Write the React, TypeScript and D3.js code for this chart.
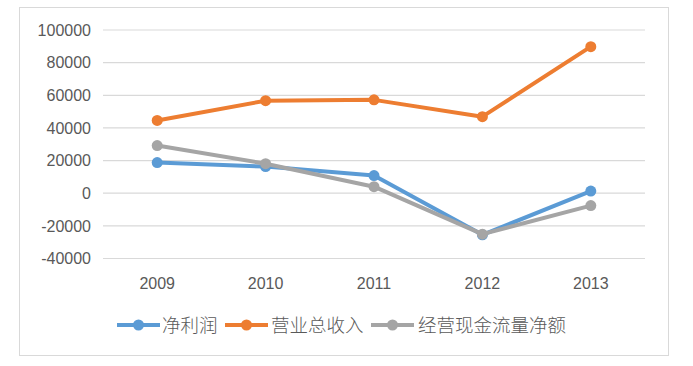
import * as d3 from 'd3';

const YEARS = ['2009', '2010', '2011', '2012', '2013'];
const NET_PROFIT = [18800, 16300, 10800, -25500, 1300];
const REVENUE = [44600, 56700, 57200, 46900, 89800];
const CASH_FLOW = [29200, 18100, 4000, -25100, -7600];
const Y_TICKS = [-40000, -20000, 0, 20000, 40000, 60000, 80000, 100000];

const SERIES = [
  { name: '净利润', values: NET_PROFIT, color: '#5B9BD5' },
  { name: '营业总收入', values: REVENUE, color: '#ED7D31' },
  { name: '经营现金流量净额', values: CASH_FLOW, color: '#A5A5A5' },
];

const W = 693;
const H = 366;
const PLOT_L = 103;
const PLOT_R = 645;
const PLOT_T = 30;
const PLOT_B = 258.5;

const LEGEND = [
  { x: 117, textX: 162 },
  { x: 225, textX: 271 },
  { x: 371, textX: 418 },
];

export default function App() {
  const x = d3.scaleBand<string>().domain(YEARS).range([PLOT_L, PLOT_R]);
  const y = d3.scaleLinear().domain([-40000, 100000]).range([PLOT_B, PLOT_T]);
  const cx = (yr: string) => (x(yr) ?? 0) + x.bandwidth() / 2;

  const line = d3
    .line<number>()
    .x((_, i) => cx(YEARS[i]))
    .y((v) => y(v));

  const numFont = '"Liberation Sans", Arial, sans-serif';
  const cjkFont = '"Noto Sans CJK SC", "Liberation Sans", sans-serif';

  return (
    <div style={{ position: 'absolute', left: 0, top: 0 }}>
      <svg width={W} height={H} style={{ display: 'block', background: '#fff' }}>
        <rect x={19.5} y={7.5} width={649} height={348} fill="#fff" stroke="#D9D9D9" />

        {/* grid + y labels */}
        {Y_TICKS.map((t) => (
          <g key={t}>
            <line x1={PLOT_L} x2={PLOT_R} y1={y(t)} y2={y(t)} stroke="#D9D9D9" strokeWidth={1.2} />
            <text
              x={91}
              y={y(t)}
              dy="0.36em"
              textAnchor="end"
              fontFamily={numFont}
              fontSize={16}
              fill="#595959"
            >
              {t}
            </text>
          </g>
        ))}

        {/* x labels */}
        {YEARS.map((yr) => (
          <text
            key={yr}
            x={cx(yr)}
            y={283}
            dy="0.36em"
            textAnchor="middle"
            fontFamily={numFont}
            fontSize={16}
            fill="#595959"
          >
            {yr}
          </text>
        ))}

        {/* series */}
        {SERIES.map((s) => (
          <g key={s.name}>
            <path d={line(s.values) ?? ''} fill="none" stroke={s.color} strokeWidth={4} strokeLinejoin="round" />
            {s.values.map((v, i) => (
              <circle key={i} cx={cx(YEARS[i])} cy={y(v)} r={5.5} fill={s.color} />
            ))}
          </g>
        ))}

        {/* legend */}
        {SERIES.map((s, i) => (
          <g key={s.name}>
            <line x1={LEGEND[i].x} x2={LEGEND[i].x + 43} y1={325} y2={325} stroke={s.color} strokeWidth={4} />
            <circle cx={LEGEND[i].x + 21.5} cy={325} r={5.5} fill={s.color} />
            <text
              x={LEGEND[i].textX}
              y={325}
              dy="0.36em"
              fontFamily={cjkFont}
              fontSize={18.5}
              fontWeight={300}
              fill="#595959"
            >
              {s.name}
            </text>
          </g>
        ))}
      </svg>
    </div>
  );
}
